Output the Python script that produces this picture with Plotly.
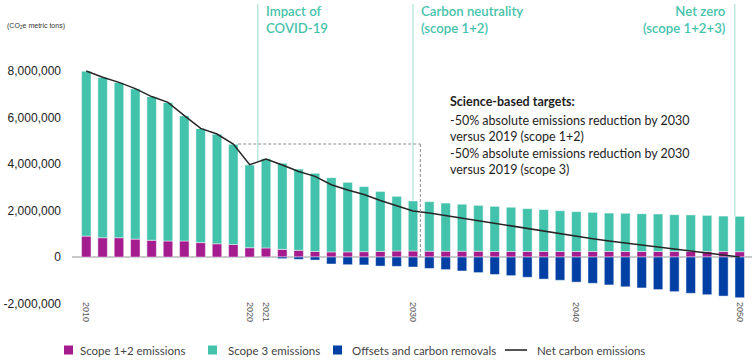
import plotly.graph_objects as go

years = list(range(2010, 2051))

# values in million metric tons CO2e
scope12 = [0.90, 0.83, 0.83, 0.77, 0.72, 0.69, 0.69, 0.62, 0.57, 0.54, 0.40,
           0.39, 0.33, 0.29, 0.24, 0.22, 0.22, 0.23, 0.24, 0.26, 0.26,
           0.25, 0.25, 0.25, 0.25, 0.24, 0.24, 0.24, 0.24, 0.24, 0.24,
           0.24, 0.24, 0.24, 0.24, 0.24, 0.24, 0.24, 0.24, 0.24, 0.23]
scope3 = [7.10, 6.90, 6.68, 6.47, 6.18, 5.96, 5.39, 4.91, 4.72, 4.32, 3.57,
          3.84, 3.70, 3.49, 3.36, 3.19, 2.99, 2.80, 2.58, 2.35, 2.15,
          2.13, 2.07, 2.02, 1.97, 1.94, 1.90, 1.84, 1.80, 1.75, 1.71,
          1.68, 1.65, 1.64, 1.62, 1.61, 1.58, 1.57, 1.55, 1.52, 1.52]
offsets = [0, 0, 0, 0, 0, 0, 0, 0, 0, 0, 0,
           -0.02, -0.07, -0.10, -0.13, -0.30, -0.33, -0.34, -0.39, -0.40, -0.43,
           -0.49, -0.54, -0.60, -0.67, -0.75, -0.80, -0.87, -0.95, -1.00, -1.08,
           -1.13, -1.20, -1.28, -1.33, -1.40, -1.49, -1.56, -1.62, -1.68, -1.75]
net = [8.00, 7.73, 7.51, 7.24, 6.90, 6.65, 6.08, 5.53, 5.29, 4.86, 3.97,
       4.21, 3.96, 3.68, 3.47, 3.11, 2.88, 2.69, 2.43, 2.21, 1.98,
       1.89, 1.78, 1.67, 1.55, 1.43, 1.34, 1.21, 1.09, 0.99, 0.87,
       0.79, 0.69, 0.60, 0.53, 0.45, 0.33, 0.25, 0.17, 0.08, 0.00]

M = 1e6
s12 = [v * M for v in scope12]
s3 = [v * M for v in scope3]
off = [v * M for v in offsets]
netv = [v * M for v in net]

ytick_vals = [-2e6, 0, 2e6, 4e6, 6e6, 8e6]
ytick_text = ["-2,000,000", "0", "2,000,000", "4,000,000", "6,000,000", "8,000,000"]
xtick_vals = [2010, 2020, 2021, 2030, 2040, 2050]
xtick_text = ["2010", "2020", "2021", "2030", "2040", "2050"]

series_names = ["Scope 1+2 emissions", "Scope 3 emissions",
                "Offsets and carbon removals", "Net carbon emissions"]

C12 = "#A51C8F"
C3 = "#43C2AC"
COFF = "#003FA3"
CNET = "#262626"
TEAL_TXT = "#45C3AB"
TEAL_LINE = "#9ADCD0"
FONT = "Lato"

# plot-area geometry (pixels) used to place paper-referenced decorations
L, T, W, H = 72, 4, 680, 300
def px_x(px):
    return (px - L) / W
def px_y(py):
    return (T + H - py) / H

fig = go.Figure()
edge = dict(color="rgba(255,255,255,0.45)", width=1)
fig.add_bar(x=years, y=s12, name=series_names[0], marker=dict(color=C12, line=edge))
fig.add_bar(x=years, y=s3, name=series_names[1], marker=dict(color=C3, line=edge))
fig.add_bar(x=years, y=off, name=series_names[2], marker=dict(color=COFF, line=edge))
fig.add_scatter(x=years, y=netv, mode="lines", name=series_names[3],
                line=dict(color=CNET, width=1.5))

YTOP = 10.88e6
YBOT = -2.02e6

# milestone vertical lines
i20, i21, i30, i50 = years.index(2020), years.index(2021), years.index(2030), years.index(2050)
vlines = [
    (2020.5, (netv[i20] + netv[i21]) / 2),
    (2030, s12[i30] + s3[i30]),
    (2049.7, s12[i50] + s3[i50]),
]
for vx, vb in vlines:
    fig.add_shape(type="line", xref="x", yref="y", x0=vx, x1=vx, y0=vb, y1=YTOP,
                  line=dict(color=TEAL_LINE, width=1), layer="below")

# dashed baseline box
i19 = years.index(2019)
base = s12[i19] + s3[i19]
dash_line = dict(color="#8E8E8E", width=1, dash="3px,2px")
fig.add_shape(type="line", xref="x", yref="y", x0=2019.3, x1=2030.45, y0=base, y1=base,
              line=dash_line, layer="above")
fig.add_shape(type="line", xref="x", yref="y", x0=2030.45, x1=2030.45, y0=base, y1=0,
              line=dash_line, layer="above")

ann = []
ann.append(dict(text="(CO<sub>2</sub>e metric tons)", xref="paper", yref="paper",
                x=px_x(5), y=px_y(26), xanchor="left", yanchor="middle",
                showarrow=False, font=dict(family="Liberation Sans", size=7, color="#333")))
mil_font = dict(family=FONT, size=13.2, color=TEAL_TXT, weight=600)
ann.append(dict(text="Impact of<br>COVID-19", x=2020.5, xref="x", y=1.0, yref="paper",
                xanchor="left", yanchor="top", xshift=6, yshift=3, align="left",
                showarrow=False, font=mil_font))
ann.append(dict(text="Carbon neutrality<br>(scope 1+2)", x=2030, xref="x", y=1.0, yref="paper",
                xanchor="left", yanchor="top", xshift=6, yshift=3, align="left",
                showarrow=False, font=mil_font))
ann.append(dict(text="Net zero<br>(scope 1+2+3)", x=2049.7, xref="x", y=1.0, yref="paper",
                xanchor="right", yanchor="top", xshift=-7, yshift=3, align="right",
                showarrow=False, font=mil_font))

sbt_font = dict(family=FONT, size=12.5, color="#1E1E1E")
sbt_blocks = [
    ("<b>Science-based targets:</b>", 101),
    ("-50% absolute emissions reduction by 2030<br>versus 2019 (scope 1+2)", 128.5),
    ("-50% absolute emissions reduction by 2030<br>versus 2019 (scope 3)", 161.5),
]
for t, py in sbt_blocks:
    ann.append(dict(text=t, x=px_x(448), xref="paper", y=px_y(py), yref="paper",
                    xanchor="left", yanchor="middle", align="left", showarrow=False,
                    font=sbt_font))

# legend drawn as a row of swatches and labels below the plot
leg_y = 350
leg_items = [  # (swatch centre px, text start px)
    (68.5, 78), (212.5, 226), (337.5, 350), (516, 535)]
leg_colors = [C12, C3, COFF, CNET]
for k, (sx, tx) in enumerate(leg_items):
    if k < 3:
        fig.add_shape(type="rect", xref="paper", yref="paper",
                      x0=px_x(sx - 4.5), x1=px_x(sx + 4.5),
                      y0=px_y(leg_y + 4.5), y1=px_y(leg_y - 4.5),
                      fillcolor=leg_colors[k], line=dict(width=0))
    else:
        fig.add_shape(type="line", xref="paper", yref="paper",
                      x0=px_x(sx - 11), x1=px_x(sx + 11),
                      y0=px_y(leg_y), y1=px_y(leg_y),
                      line=dict(color="#555", width=2))
    ann.append(dict(text=series_names[k], xref="paper", yref="paper",
                    x=px_x(tx), y=px_y(leg_y), xanchor="left", yanchor="middle",
                    showarrow=False, font=dict(family=FONT, size=11.5, color="#444")))

fig.update_layout(
    width=752, height=361,
    margin=dict(l=L, r=752 - L - W, t=T, b=361 - T - H, autoexpand=False),
    paper_bgcolor="white", plot_bgcolor="white",
    barmode="relative", bargap=0.42,
    showlegend=False,
    annotations=ann,
    font=dict(family=FONT),
)
fig.update_xaxes(range=[2009.125, 2050.75], tickmode="array", tickvals=xtick_vals,
                 ticktext=xtick_text, tickangle=90, showgrid=False, zeroline=False,
                 showline=False, ticks="", automargin=False, ticklabelstandoff=-3,
                 tickfont=dict(family="Liberation Sans", size=9, color="#555"))
fig.update_yaxes(range=[YBOT, YTOP], tickmode="array", tickvals=ytick_vals, ticktext=ytick_text,
                 showgrid=False, zeroline=True, zerolinecolor="#C9C9C9", zerolinewidth=1.5,
                 showline=False, ticks="", ticklabelstandoff=10, automargin=False,
                 tickfont=dict(family="Liberation Sans", size=12, color="#222"))

fig.write_html("out.html", config={"displayModeBar": False},
               post_script="document.body.style.margin='0';document.body.style.overflow='hidden';")
